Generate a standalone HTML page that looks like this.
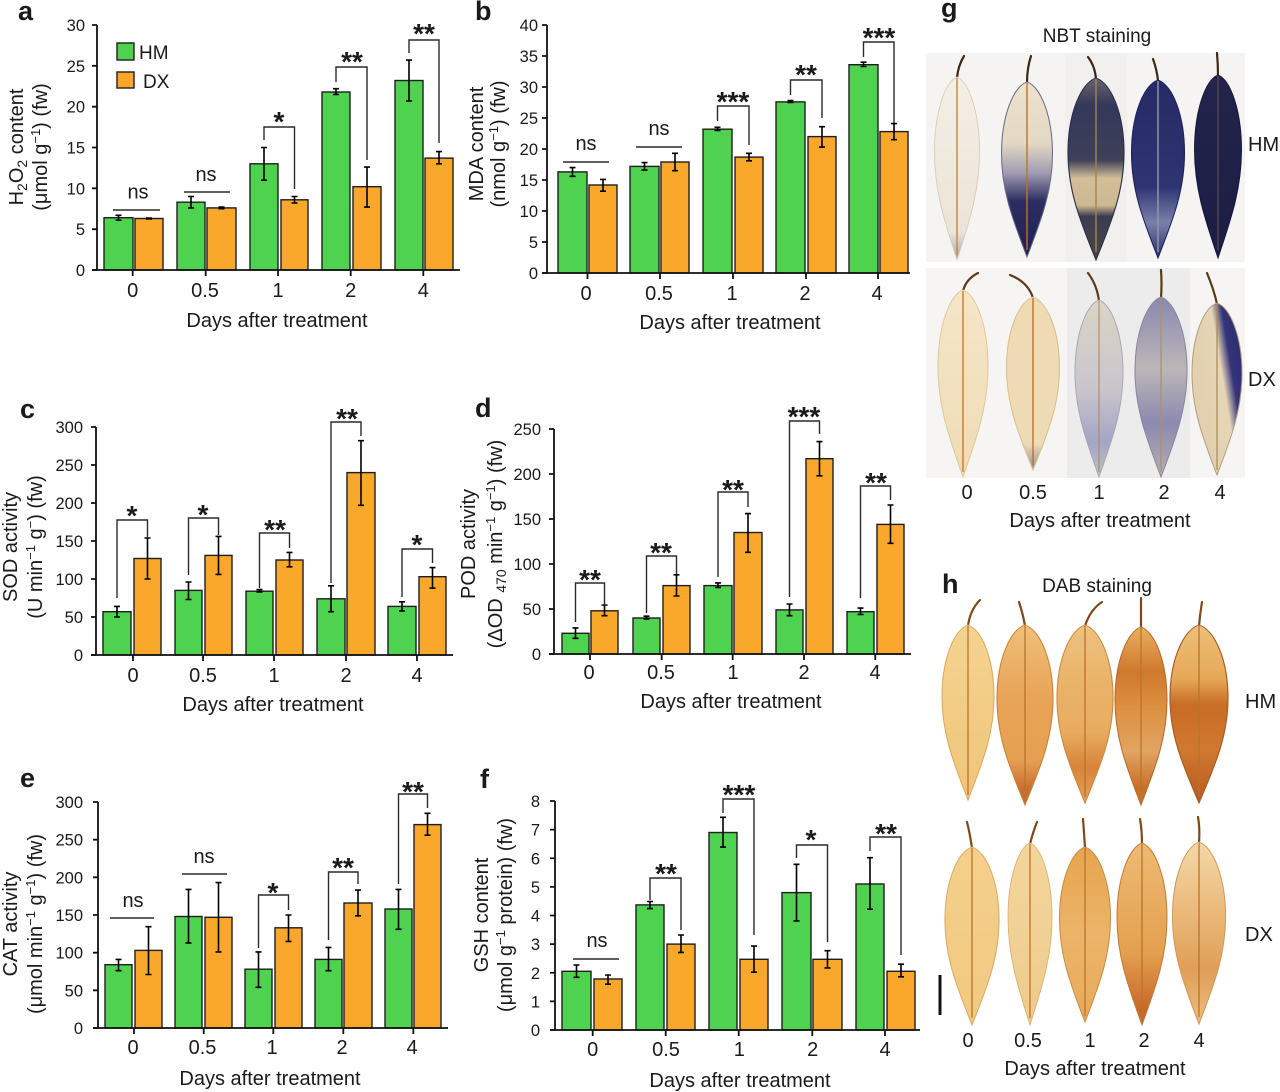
<!DOCTYPE html>
<html><head><meta charset="utf-8"><style>
html,body{margin:0;padding:0;background:#fff}
svg{display:block}
text{font-family:"Liberation Sans",Arial,sans-serif;fill:#1a1a1a}
.tk{font-size:16.5px;text-anchor:end}
.xl{font-size:20px;text-anchor:middle}
.tt{font-size:20px;text-anchor:middle}
.yl{font-size:20px;text-anchor:middle}
.ns{font-size:20px;text-anchor:middle}
.st{font-size:28px;font-weight:bold;text-anchor:middle}
.lt{font-size:27px;font-weight:bold}
.g{fill:#4fd24f;stroke:#1e1e1e;stroke-width:1.4}
.o{fill:#f9a82b;stroke:#1e1e1e;stroke-width:1.4}
.e{stroke:#000;stroke-width:1.6;fill:none}
.br{stroke:#2a2a2a;stroke-width:1.4;fill:none}
.ax{stroke:#111;stroke-width:1.8;fill:none}
.pt{fill:none;stroke-width:2.2;stroke-linecap:round}
</style></head><body>
<svg width="1280" height="1092" viewBox="0 0 1280 1092" xmlns="http://www.w3.org/2000/svg">
<defs>
<path id="lf" d="M0,0 C13,5 25,38 25,82 C25,126 13,160 0,200 C-13,160 -25,126 -25,82 C-25,38 -13,5 0,0 Z"/>
<linearGradient id="gh0" x1="0" y1="0" x2="0" y2="1"><stop offset="0" stop-color="#f4eee5"/><stop offset="0.85" stop-color="#ece4d8"/><stop offset="1" stop-color="#a8a4b0"/></linearGradient>
<linearGradient id="gh05" x1="0" y1="0" x2="0" y2="1"><stop offset="0" stop-color="#ece2ce"/><stop offset="0.35" stop-color="#e2d8c4"/><stop offset="0.52" stop-color="#a09cb0"/><stop offset="0.68" stop-color="#2c2e62"/><stop offset="1" stop-color="#1e2050"/></linearGradient>
<linearGradient id="gh1" x1="0" y1="0" x2="0" y2="1"><stop offset="0" stop-color="#6a6470"/><stop offset="0.15" stop-color="#34385a"/><stop offset="0.45" stop-color="#3e4058"/><stop offset="0.55" stop-color="#d2be98"/><stop offset="0.7" stop-color="#cdb892"/><stop offset="0.76" stop-color="#3a3c52"/><stop offset="1" stop-color="#4a4642"/></linearGradient>
<linearGradient id="gh2" x1="0" y1="0" x2="0" y2="1"><stop offset="0" stop-color="#262a66"/><stop offset="0.6" stop-color="#2e3472"/><stop offset="0.8" stop-color="#7880aa"/><stop offset="1" stop-color="#2a2e68"/></linearGradient>
<linearGradient id="gh4" x1="0" y1="0" x2="0" y2="1"><stop offset="0" stop-color="#22244c"/><stop offset="1" stop-color="#1c1d44"/></linearGradient>
<linearGradient id="gd0" x1="0" y1="0" x2="0" y2="1"><stop offset="0" stop-color="#f5e6c8"/><stop offset="1" stop-color="#efdcb6"/></linearGradient>
<linearGradient id="gd05" x1="0" y1="0" x2="0" y2="1"><stop offset="0" stop-color="#efdab2"/><stop offset="0.85" stop-color="#eedbb6"/><stop offset="1" stop-color="#8e8aa2"/></linearGradient>
<linearGradient id="gd1" x1="0" y1="0" x2="0" y2="1"><stop offset="0" stop-color="#dcd4c6"/><stop offset="0.5" stop-color="#cac6cc"/><stop offset="0.8" stop-color="#a4a4c6"/><stop offset="1" stop-color="#c4bec0"/></linearGradient>
<linearGradient id="gd2" x1="0" y1="0" x2="0" y2="1"><stop offset="0" stop-color="#8a88b0"/><stop offset="0.4" stop-color="#bcb6b8"/><stop offset="0.7" stop-color="#8c8ab0"/><stop offset="1" stop-color="#b4aeb0"/></linearGradient>
<linearGradient id="gd4" x1="1" y1="0.1" x2="0.2" y2="0.55"><stop offset="0" stop-color="#2a2a6e"/><stop offset="0.35" stop-color="#34347a"/><stop offset="0.55" stop-color="#e6d6b6"/><stop offset="1" stop-color="#e2d0ae"/></linearGradient>
<linearGradient id="dh0" x1="0" y1="0" x2="0" y2="1"><stop offset="0" stop-color="#f4d390"/><stop offset="1" stop-color="#efc57a"/></linearGradient>
<linearGradient id="dh05" x1="0" y1="0" x2="0" y2="1"><stop offset="0" stop-color="#efc07a"/><stop offset="0.4" stop-color="#e8a458"/><stop offset="0.75" stop-color="#e6a052"/><stop offset="0.92" stop-color="#c86c30"/></linearGradient>
<linearGradient id="dh1" x1="0" y1="0" x2="0" y2="1"><stop offset="0" stop-color="#edc282"/><stop offset="0.3" stop-color="#eab46a"/><stop offset="0.6" stop-color="#e8ac60"/><stop offset="0.8" stop-color="#d8843a"/><stop offset="1" stop-color="#e0a055"/></linearGradient>
<linearGradient id="dh2" x1="0" y1="0" x2="0" y2="1"><stop offset="0" stop-color="#e8b060"/><stop offset="0.25" stop-color="#d0782e"/><stop offset="0.45" stop-color="#dc9040"/><stop offset="0.7" stop-color="#e2a462"/><stop offset="0.9" stop-color="#c8702a"/></linearGradient>
<linearGradient id="dh4" x1="0" y1="0" x2="0" y2="1"><stop offset="0" stop-color="#eec07a"/><stop offset="0.3" stop-color="#e6a858"/><stop offset="0.45" stop-color="#c86c26"/><stop offset="0.7" stop-color="#d07830"/><stop offset="1" stop-color="#b85a20"/></linearGradient>
<linearGradient id="dd0" x1="0" y1="0" x2="0" y2="1"><stop offset="0" stop-color="#f4d08c"/><stop offset="1" stop-color="#f1c980"/></linearGradient>
<linearGradient id="dd05" x1="0" y1="0" x2="0" y2="1"><stop offset="0" stop-color="#f3d69c"/><stop offset="1" stop-color="#eecb8c"/></linearGradient>
<linearGradient id="dd1" x1="0" y1="0" x2="0" y2="1"><stop offset="0" stop-color="#e6a44e"/><stop offset="0.5" stop-color="#ecb46a"/><stop offset="1" stop-color="#e8aa58"/></linearGradient>
<linearGradient id="dd2" x1="0" y1="0" x2="0" y2="1"><stop offset="0" stop-color="#eeba74"/><stop offset="0.6" stop-color="#e4a050"/><stop offset="0.92" stop-color="#c8682a"/></linearGradient>
<linearGradient id="dd4" x1="0" y1="0" x2="0" y2="1"><stop offset="0" stop-color="#f4d8a8"/><stop offset="0.4" stop-color="#eab878"/><stop offset="0.7" stop-color="#e09e58"/><stop offset="1" stop-color="#eebd80"/></linearGradient>
</defs>

<!-- ===== Panel a ===== -->
<text x="18" y="20" class="lt">a</text>
<rect x="104" y="217.7" width="29" height="52.3" class="g"/>
<rect x="135" y="218.5" width="28" height="51.5" class="o"/>
<rect x="177" y="202.2" width="28" height="67.8" class="g"/>
<rect x="207" y="207.9" width="29" height="62.1" class="o"/>
<rect x="250" y="163.8" width="28" height="106.2" class="g"/>
<rect x="281" y="199.8" width="27" height="70.2" class="o"/>
<rect x="322" y="92" width="28" height="178" class="g"/>
<rect x="353" y="186.7" width="28" height="83.3" class="o"/>
<rect x="395" y="80.5" width="28" height="189.5" class="g"/>
<rect x="425" y="158.1" width="28" height="111.9" class="o"/>
<path class="e" d="M118.5,215.3V220.2M115.5,215.3h6M115.5,220.2h6M149,218V219M146,218h6M146,219h6M191,196.5V207.9M188,196.5h6M188,207.9h6M221.5,207.1V208.7M218.5,207.1h6M218.5,208.7h6M264,147.5V180.2M261,147.5h6M261,180.2h6M294.5,196.5V203M291.5,196.5h6M291.5,203h6M336,88.7V94.4M333,88.7h6M333,94.4h6M367,167.1V207.1M364,167.1h6M364,207.1h6M409,60.1V101M406,60.1h6M406,101h6M439,151.6V163.8M436,151.6h6M436,163.8h6"/>
<path class="ax" d="M97,25V270M92,270H460"/>
<path class="ax" d="M92,270h5M92,229.2h5M92,188.3h5M92,147.5h5M92,106.7h5M92,65.8h5M92,25h5M132.7,270v6M205.7,270v6M278,270v6M350.7,270v6M423.3,270v6"/>
<text class="tk" x="85" y="276">0</text><text class="tk" x="85" y="235.2">5</text><text class="tk" x="85" y="194.3">10</text><text class="tk" x="85" y="153.5">15</text><text class="tk" x="85" y="112.7">20</text><text class="tk" x="85" y="71.8">25</text><text class="tk" x="85" y="31">30</text>
<text class="xl" x="132.7" y="297">0</text><text class="xl" x="205" y="297">0.5</text><text class="xl" x="278" y="297">1</text><text class="xl" x="350.7" y="297">2</text><text class="xl" x="423.3" y="297">4</text>
<text class="tt" x="277" y="327">Days after treatment</text>
<path class="br" d="M113,210H160M184,192H230M264,140V127H294.5V189M336,82V67H367V160M409,53V40H439V143"/>
<text class="ns" x="138" y="198.5">ns</text><text class="ns" x="206" y="181">ns</text>
<text class="st" x="279" y="131">*</text><text class="st" x="352" y="71">**</text><text class="st" x="424" y="43">**</text>
<rect x="117" y="43" width="17" height="17" class="g"/><rect x="117" y="72" width="17" height="16" class="o"/>
<text x="139" y="59" style="font-size:19px">HM</text><text x="143" y="88" style="font-size:19px">DX</text>
<text class="yl" transform="translate(23,147) rotate(-90)">H<tspan font-size="14" dy="4">2</tspan><tspan dy="-4">O</tspan><tspan font-size="14" dy="4">2</tspan><tspan dy="-4"> content</tspan></text>
<text class="yl" transform="translate(47,147) rotate(-90)">(μmol g<tspan font-size="13" dy="-7">−1</tspan><tspan dy="7">) (fw)</tspan></text>

<!-- ===== Panel b ===== -->
<text x="475" y="20" class="lt">b</text>
<rect x="558" y="171.9" width="29" height="101.1" class="g"/>
<rect x="589" y="185" width="28" height="88" class="o"/>
<rect x="630" y="166.4" width="29" height="106.6" class="g"/>
<rect x="661" y="162" width="28" height="111" class="o"/>
<rect x="703" y="129.2" width="29" height="143.8" class="g"/>
<rect x="735" y="157.1" width="28" height="115.9" class="o"/>
<rect x="776" y="101.9" width="29" height="171.1" class="g"/>
<rect x="808" y="136.6" width="28" height="136.4" class="o"/>
<rect x="849" y="64.7" width="29" height="208.3" class="g"/>
<rect x="880" y="131.6" width="28" height="141.4" class="o"/>
<path class="e" d="M572.5,167.6V176.3M569.5,167.6h6M569.5,176.3h6M603,179.4V191.2M600,179.4h6M600,191.2h6M644.5,162.6V170.1M641.5,162.6h6M641.5,170.1h6M675,153.3V170.7M672,153.3h6M672,170.7h6M717.5,127.3V130.4M714.5,127.3h6M714.5,130.4h6M749,153.3V160.8M746,153.3h6M746,160.8h6M790.5,100.6V102.5M787.5,100.6h6M787.5,102.5h6M822,126.7V147.1M819,126.7h6M819,147.1h6M863.5,62.2V66.5M860.5,62.2h6M860.5,66.5h6M894,123.6V139.7M891,123.6h6M891,139.7h6"/>
<path class="ax" d="M547,25V273M542,273H910"/>
<path class="ax" d="M542,273h5M542,242h5M542,211h5M542,180h5M542,149h5M542,118h5M542,87h5M542,56h5M542,25h5M587.5,273v6M660,273v6M733,273v6M806,273v6M878,273v6"/>
<text class="tk" x="538" y="279">0</text><text class="tk" x="538" y="248">5</text><text class="tk" x="538" y="217">10</text><text class="tk" x="538" y="186">15</text><text class="tk" x="538" y="155">20</text><text class="tk" x="538" y="124">25</text><text class="tk" x="538" y="93">30</text><text class="tk" x="538" y="62">35</text><text class="tk" x="538" y="31">40</text>
<text class="xl" x="586" y="300">0</text><text class="xl" x="659" y="300">0.5</text><text class="xl" x="732" y="300">1</text><text class="xl" x="805" y="300">2</text><text class="xl" x="877" y="300">4</text>
<text class="tt" x="730" y="329">Days after treatment</text>
<path class="br" d="M563,162H609M636,147H682M717.5,121V106H749V145M790.5,95V80H822V118M863.5,57V42H894V123"/>
<text class="ns" x="586" y="150">ns</text><text class="ns" x="659" y="135">ns</text>
<text class="st" x="733" y="111">***</text><text class="st" x="806" y="84">**</text><text class="st" x="879" y="47">***</text>
<text class="yl" transform="translate(483,144) rotate(-90)">MDA content</text>
<text class="yl" transform="translate(505,144) rotate(-90)">(nmol g<tspan font-size="13" dy="-7">−1</tspan><tspan dy="7">) (fw)</tspan></text>

<!-- ===== Panel c ===== -->
<text x="20" y="418" class="lt">c</text>
<rect x="103" y="611.7" width="28" height="43.3" class="g"/>
<rect x="134" y="558.5" width="27" height="96.5" class="o"/>
<rect x="175" y="590.4" width="27" height="64.6" class="g"/>
<rect x="205" y="555.4" width="27" height="99.6" class="o"/>
<rect x="246" y="591.2" width="27" height="63.8" class="g"/>
<rect x="276" y="560" width="27" height="95" class="o"/>
<rect x="317" y="598.8" width="28" height="56.2" class="g"/>
<rect x="347" y="472.6" width="28" height="182.4" class="o"/>
<rect x="388" y="606.4" width="28" height="48.6" class="g"/>
<rect x="419" y="576.7" width="27" height="78.3" class="o"/>
<path class="e" d="M117,606.4V617M114,606.4h6M114,617h6M147.5,538V579M144.5,538h6M144.5,579h6M188.5,582V599.5M185.5,582h6M185.5,599.5h6M218.5,536.4V574.4M215.5,536.4h6M215.5,574.4h6M259.5,589.6V591.9M256.5,589.6h6M256.5,591.9h6M289.5,552.4V566.8M286.5,552.4h6M286.5,566.8h6M331,585.8V611.7M328,585.8h6M328,611.7h6M361,440.7V505.3M358,440.7h6M358,505.3h6M402,601.8V610.9M399,601.8h6M399,610.9h6M432.5,567.6V588.1M429.5,567.6h6M429.5,588.1h6"/>
<path class="ax" d="M96,427V655M91,655H453"/>
<path class="ax" d="M91,655h5M91,617h5M91,579h5M91,541h5M91,503h5M91,465h5M91,427h5M133,655v6M203,655v6M274,655v6M346,655v6M417,655v6"/>
<text class="tk" x="83" y="661">0</text><text class="tk" x="83" y="623">50</text><text class="tk" x="83" y="585">100</text><text class="tk" x="83" y="547">150</text><text class="tk" x="83" y="509">200</text><text class="tk" x="83" y="471">250</text><text class="tk" x="83" y="433">300</text>
<text class="xl" x="133" y="682">0</text><text class="xl" x="203" y="682">0.5</text><text class="xl" x="274" y="682">1</text><text class="xl" x="346" y="682">2</text><text class="xl" x="417" y="682">4</text>
<text class="tt" x="273" y="711">Days after treatment</text>
<path class="br" d="M117,598V520H147.5V537M188.5,575V518H218.5V535M259.5,588V533H289.5V548M331,583V422H361V436M402,597V549H432.5V563"/>
<text class="st" x="132" y="525">*</text><text class="st" x="203" y="524">*</text><text class="st" x="275" y="539">**</text><text class="st" x="347" y="428">**</text><text class="st" x="417" y="554">*</text>
<text class="yl" transform="translate(17,547) rotate(-90)">SOD activity</text>
<text class="yl" transform="translate(42,547) rotate(-90)">(U min<tspan font-size="13" dy="-7">−1</tspan><tspan dy="7"> g</tspan><tspan font-size="13" dy="-7">−</tspan><tspan dy="7">) (fw)</tspan></text>

<!-- ===== Panel d ===== -->
<text x="475" y="417" class="lt">d</text>
<rect x="562" y="633.3" width="27" height="20.7" class="g"/>
<rect x="591" y="610.8" width="27" height="43.2" class="o"/>
<rect x="633" y="618" width="27" height="36" class="g"/>
<rect x="663" y="585.6" width="27" height="68.4" class="o"/>
<rect x="704" y="585.6" width="28" height="68.4" class="g"/>
<rect x="734" y="532.5" width="28" height="121.5" class="o"/>
<rect x="776" y="609.9" width="27" height="44.1" class="g"/>
<rect x="806" y="458.7" width="27" height="195.3" class="o"/>
<rect x="847" y="611.7" width="27" height="42.3" class="g"/>
<rect x="877" y="524.4" width="27" height="129.6" class="o"/>
<path class="e" d="M575.5,627.9V638.3M572.5,627.9h6M572.5,638.3h6M604.5,605V615.7M601.5,605h6M601.5,615.7h6M646.5,616.2V618.9M643.5,616.2h6M643.5,618.9h6M676.5,574.8V596M673.5,574.8h6M673.5,596h6M718,582.9V587.4M715,582.9h6M715,587.4h6M748,513.6V552.3M745,513.6h6M745,552.3h6M789.5,604V615.7M786.5,604h6M786.5,615.7h6M819.5,441.6V475.8M816.5,441.6h6M816.5,475.8h6M860.5,608.1V614.4M857.5,608.1h6M857.5,614.4h6M890.5,505V543.3M887.5,505h6M887.5,543.3h6"/>
<path class="ax" d="M554,429V654M549,654H911"/>
<path class="ax" d="M549,654h5M549,609h5M549,564h5M549,519h5M549,474h5M549,429h5M590,654v6M661.7,654v6M732.7,654v6M804,654v6M875.3,654v6"/>
<text class="tk" x="541" y="660">0</text><text class="tk" x="541" y="615">50</text><text class="tk" x="541" y="570">100</text><text class="tk" x="541" y="525">150</text><text class="tk" x="541" y="480">200</text><text class="tk" x="541" y="435">250</text>
<text class="xl" x="589" y="679">0</text><text class="xl" x="661" y="679">0.5</text><text class="xl" x="733" y="679">1</text><text class="xl" x="804" y="679">2</text><text class="xl" x="875" y="679">4</text>
<text class="tt" x="731" y="708">Days after treatment</text>
<path class="br" d="M575.5,622V583H604.5V604M646.5,613V556H676.5V574M718,577V492H748V507M789.5,597V421H819.5V434M860.5,598V486H890.5V500"/>
<text class="st" x="590" y="589">**</text><text class="st" x="661" y="562">**</text><text class="st" x="733" y="499">**</text><text class="st" x="804" y="426">***</text><text class="st" x="876" y="492">**</text>
<text class="yl" transform="translate(475,544) rotate(-90)">POD activity</text>
<text class="yl" transform="translate(502,544) rotate(-90)">(ΔOD <tspan font-size="14" dy="4">470</tspan><tspan dy="-4"> min</tspan><tspan font-size="13" dy="-7">−1</tspan><tspan dy="7"> g</tspan><tspan font-size="13" dy="-7">−1</tspan><tspan dy="7">) (fw)</tspan></text>

<!-- ===== Panel e ===== -->
<text x="20" y="787" class="lt">e</text>
<rect x="105" y="964.7" width="27" height="63.3" class="g"/>
<rect x="135" y="950.4" width="27" height="77.6" class="o"/>
<rect x="175" y="916.5" width="27" height="111.5" class="g"/>
<rect x="205" y="917.3" width="27" height="110.7" class="o"/>
<rect x="245" y="969.2" width="27" height="58.8" class="g"/>
<rect x="275" y="927.8" width="27" height="100.2" class="o"/>
<rect x="315" y="959.4" width="27" height="68.6" class="g"/>
<rect x="344" y="903" width="28" height="125" class="o"/>
<rect x="385" y="909" width="27" height="119" class="g"/>
<rect x="414" y="824.6" width="27" height="203.4" class="o"/>
<path class="e" d="M118.5,959.4V970.7M115.5,959.4h6M115.5,970.7h6M148.5,926.7V974.5M145.5,926.7h6M145.5,974.5h6M188.5,889.4V942.9M185.5,889.4h6M185.5,942.9h6M218.5,882.6V951.9M215.5,882.6h6M215.5,951.9h6M258.5,951.9V987.3M255.5,951.9h6M255.5,987.3h6M288.5,915V941.4M285.5,915h6M285.5,941.4h6M328.5,947.4V970.7M325.5,947.4h6M325.5,970.7h6M358,890.1V915.8M355,890.1h6M355,915.8h6M398.5,889.4V929.3M395.5,889.4h6M395.5,929.3h6M427.5,813.3V835.2M424.5,813.3h6M424.5,835.2h6"/>
<path class="ax" d="M98,802V1028M93,1028H448"/>
<path class="ax" d="M93,1028h5M93,990.3h5M93,952.7h5M93,915h5M93,877.3h5M93,839.7h5M93,802h5M134,1028v6M203.7,1028v6M273.3,1028v6M343.3,1028v6M413.3,1028v6"/>
<text class="tk" x="83" y="1034">0</text><text class="tk" x="83" y="996.3">50</text><text class="tk" x="83" y="958.7">100</text><text class="tk" x="83" y="921">150</text><text class="tk" x="83" y="883.3">200</text><text class="tk" x="83" y="845.7">250</text><text class="tk" x="83" y="808">300</text>
<text class="xl" x="133" y="1054">0</text><text class="xl" x="202.5" y="1054">0.5</text><text class="xl" x="272" y="1054">1</text><text class="xl" x="342" y="1054">2</text><text class="xl" x="412" y="1054">4</text>
<text class="tt" x="270" y="1085">Days after treatment</text>
<path class="br" d="M110,918H154M182,874H227M258.5,948V895H288.5V910M328.5,940V872H358V884M398.5,884V794H427.5V808"/>
<text class="ns" x="133" y="907">ns</text><text class="ns" x="204" y="863">ns</text>
<text class="st" x="273" y="902">*</text><text class="st" x="343" y="877">**</text><text class="st" x="413" y="801">**</text>
<text class="yl" transform="translate(17,924) rotate(-90)">CAT activity</text>
<text class="yl" transform="translate(42,924) rotate(-90)">(μmol min<tspan font-size="13" dy="-7">−1</tspan><tspan dy="7"> g</tspan><tspan font-size="13" dy="-7">−1</tspan><tspan dy="7">) (fw)</tspan></text>

<!-- ===== Panel f ===== -->
<text x="480" y="788" class="lt">f</text>
<rect x="562" y="971.3" width="29" height="58.7" class="g"/>
<rect x="594" y="979" width="28" height="51" class="o"/>
<rect x="636" y="904.9" width="28" height="125.1" class="g"/>
<rect x="667" y="944.1" width="28" height="85.9" class="o"/>
<rect x="709" y="832.5" width="28" height="197.5" class="g"/>
<rect x="740" y="959.3" width="28" height="70.7" class="o"/>
<rect x="782" y="892.6" width="29" height="137.4" class="g"/>
<rect x="813" y="959.3" width="29" height="70.7" class="o"/>
<rect x="856" y="884" width="28" height="146" class="g"/>
<rect x="887" y="971.3" width="28" height="58.7" class="o"/>
<path class="e" d="M576.5,965V977.3M573.5,965h6M573.5,977.3h6M608,975V984.2M605,975h6M605,984.2h6M650,901.5V908.6M647,901.5h6M647,908.6h6M681,935V952.4M678,935h6M678,952.4h6M723,817.3V847.1M720,817.3h6M720,847.1h6M754,946.1V972.2M751,946.1h6M751,972.2h6M796.5,864.3V920.9M793.5,864.3h6M793.5,920.9h6M827.5,950.7V967.9M824.5,950.7h6M824.5,967.9h6M870,857.7V909.2M867,857.7h6M867,909.2h6M901,964.2V976.8M898,964.2h6M898,976.8h6"/>
<path class="ax" d="M555,801V1030M550,1030H920"/>
<path class="ax" d="M550,1030h5M550,1001.4h5M550,972.75h5M550,944.1h5M550,915.5h5M550,886.9h5M550,858.25h5M550,829.6h5M550,801h5M592.7,1030v6M665.7,1030v6M738.7,1030v6M812.3,1030v6M885,1030v6"/>
<text class="tk" x="540" y="1036">0</text><text class="tk" x="540" y="1007.4">1</text><text class="tk" x="540" y="978.75">2</text><text class="tk" x="540" y="950.1">3</text><text class="tk" x="540" y="921.5">4</text><text class="tk" x="540" y="892.9">5</text><text class="tk" x="540" y="864.25">6</text><text class="tk" x="540" y="835.6">7</text><text class="tk" x="540" y="807">8</text>
<text class="xl" x="592.7" y="1056">0</text><text class="xl" x="666" y="1056">0.5</text><text class="xl" x="739.3" y="1056">1</text><text class="xl" x="812.7" y="1056">2</text><text class="xl" x="885" y="1056">4</text>
<text class="tt" x="740" y="1087">Days after treatment</text>
<path class="br" d="M573,959H619M650,900V878H681V930M723,813V799H754V935M796.5,858V845H827.5V942M870,851V837H901V955"/>
<text class="ns" x="597" y="947">ns</text>
<text class="st" x="666" y="883">**</text><text class="st" x="739" y="804">***</text><text class="st" x="811" y="849">*</text><text class="st" x="886" y="843">**</text>
<text class="yl" transform="translate(488,915) rotate(-90)">GSH content</text>
<text class="yl" transform="translate(512,915) rotate(-90)">(μmol g<tspan font-size="13" dy="-7">−1</tspan><tspan dy="7"> protein) (fw)</tspan></text>

<!-- ===== Panel g (NBT) ===== -->
<text x="941" y="17" class="lt">g</text>
<text x="1097" y="42" class="tt" style="font-size:19px">NBT staining</text>
<rect x="926" y="53" width="319" height="209" fill="#f5f4f2"/>
<rect x="1065" y="53" width="62" height="209" fill="#f1f0ee"/>
<rect x="926" y="268" width="319" height="210" fill="#f6f5f3"/>
<rect x="1067" y="268" width="123" height="210" fill="#ececec"/>
<!-- HM row -->
<path class="pt" stroke="#3a2a1a" d="M964,56Q958,66 957,78M1031,56Q1027,68 1027,83M1088,57Q1095,66 1096,79M1153,59Q1157,70 1158,81M1217,53Q1218,64 1218,76"/>
<use href="#lf" transform="translate(957,77) scale(0.9,0.915)" fill="url(#gh0)" stroke="#d8ccb8" stroke-width="1"/>
<use href="#lf" transform="translate(1027,82) scale(1.02,0.875)" fill="url(#gh05)" stroke="#6a6a88" stroke-width="1"/>
<use href="#lf" transform="translate(1096,78) scale(1.12,0.91)" fill="url(#gh1)" stroke="#2a2c48" stroke-width="1"/>
<use href="#lf" transform="translate(1158,80) scale(1.06,0.89)" fill="url(#gh2)" stroke="#1e2258" stroke-width="1"/>
<use href="#lf" transform="translate(1218,75) scale(0.94,0.915)" fill="url(#gh4)" stroke="#141538" stroke-width="1"/>
<path stroke-width="1.4" fill="none" d="M957,78V255" stroke="#c8843a"/>
<path stroke-width="1.4" fill="none" d="M1027,83V250" stroke="#b8742a"/>
<path stroke-width="1.4" fill="none" d="M1096,79V252" stroke="#a88250"/>
<path stroke-width="1.4" fill="none" d="M1158,81V252" stroke="#9a98a8"/>
<path stroke-width="1.2" fill="none" d="M1218,76V250" stroke="#5a5040"/>
<!-- DX row -->
<path class="pt" stroke="#5a3a1a" d="M978,273Q966,279 963,291M1010,275Q1028,282 1033,298M1088,273Q1097,285 1099,301M1161,270Q1162,284 1161,298M1207,273Q1214,290 1217,304"/>
<use href="#lf" transform="translate(963,290) scale(1.0,0.935)" fill="url(#gd0)" stroke="#e0c89c" stroke-width="1"/>
<use href="#lf" transform="translate(1033,297) scale(1.06,0.865)" fill="url(#gd05)" stroke="#d8c090" stroke-width="1"/>
<use href="#lf" transform="translate(1099,300) scale(0.96,0.885)" fill="url(#gd1)" stroke="#aaa6b0" stroke-width="1"/>
<use href="#lf" transform="translate(1161,297) scale(1.04,0.9)" fill="url(#gd2)" stroke="#8a88a0" stroke-width="1"/>
<use href="#lf" transform="translate(1217,303) scale(1.0,0.86)" fill="url(#gd4)" stroke="#b0a080" stroke-width="1"/>
<path stroke-width="1.4" fill="none" d="M963,291V472" stroke="#c87a2a"/>
<path stroke-width="1.4" fill="none" d="M1033,298V465" stroke="#b87430"/>
<path stroke-width="1.2" fill="none" d="M1099,301V472" stroke="#a89070"/>
<path stroke-width="1.2" fill="none" d="M1161,298V472" stroke="#a89070"/>
<path stroke-width="1.2" fill="none" d="M1217,304V470" stroke="#a88858"/>
<text x="1248" y="151" style="font-size:20px">HM</text>
<text x="1248" y="386" style="font-size:20px">DX</text>
<text class="xl" x="967" y="499">0</text><text class="xl" x="1033" y="499">0.5</text><text class="xl" x="1099" y="499">1</text><text class="xl" x="1164" y="499">2</text><text class="xl" x="1220" y="499">4</text>
<text class="tt" x="1100" y="527">Days after treatment</text>

<!-- ===== Panel h (DAB) ===== -->
<text x="942" y="593" class="lt">h</text>
<text x="1097" y="592" class="tt" style="font-size:19px">DAB staining</text>
<!-- HM row -->
<path class="pt" stroke="#7a4a1a" d="M980,600Q970,610 968,626M1019,602Q1023,614 1025,626M1102,602Q1090,610 1085,626M1141,598Q1141,612 1141,628M1202,602Q1200,614 1199,626"/>
<use href="#lf" transform="translate(968,625) scale(1.04,0.875)" fill="url(#dh0)" stroke="#dca860" stroke-width="1"/>
<use href="#lf" transform="translate(1025,625) scale(1.12,0.9)" fill="url(#dh05)" stroke="#c8843a" stroke-width="1"/>
<use href="#lf" transform="translate(1085,625) scale(1.12,0.89)" fill="url(#dh1)" stroke="#cc8a40" stroke-width="1"/>
<use href="#lf" transform="translate(1141,627) scale(1.04,0.89)" fill="url(#dh2)" stroke="#b86a28" stroke-width="1"/>
<use href="#lf" transform="translate(1199,625) scale(1.16,0.89)" fill="url(#dh4)" stroke="#a85a20" stroke-width="1"/>
<path stroke-width="1.3" fill="none" stroke="#b8742a" d="M968,626V795M1025,626V798M1085,626V797M1141,628V798M1199,626V796"/>
<!-- DX row -->
<path class="pt" stroke="#7a4a1a" d="M967,822Q970,834 972,848M1037,822Q1033,832 1030,844M1083,819Q1084,832 1085,848M1140,819Q1142,830 1142,844M1198,817Q1200,828 1199,843"/>
<use href="#lf" transform="translate(972,847) scale(1.08,0.89)" fill="url(#dd0)" stroke="#dcaa64" stroke-width="1"/>
<use href="#lf" transform="translate(1030,843) scale(0.88,0.91)" fill="url(#dd05)" stroke="#dcb070" stroke-width="1"/>
<use href="#lf" transform="translate(1085,847) scale(1.02,0.875)" fill="url(#dd1)" stroke="#c88a40" stroke-width="1"/>
<use href="#lf" transform="translate(1142,843) scale(1.0,0.91)" fill="url(#dd2)" stroke="#c07a34" stroke-width="1"/>
<use href="#lf" transform="translate(1199,842) scale(1.06,0.91)" fill="url(#dd4)" stroke="#d09a58" stroke-width="1"/>
<path stroke-width="1.3" fill="none" stroke="#b8742a" d="M972,848V1018M1030,844V1018M1085,848V1016M1142,844V1018M1199,843V1017"/>
<rect x="938.5" y="975" width="3" height="40" fill="#111"/>
<text x="1245" y="708" style="font-size:20px">HM</text>
<text x="1245" y="941" style="font-size:20px">DX</text>
<text class="xl" x="968" y="1047">0</text><text class="xl" x="1028" y="1047">0.5</text><text class="xl" x="1090" y="1047">1</text><text class="xl" x="1144" y="1047">2</text><text class="xl" x="1199" y="1047">4</text>
<text class="tt" x="1095" y="1075">Days after treatment</text>
</svg>
</body></html>
